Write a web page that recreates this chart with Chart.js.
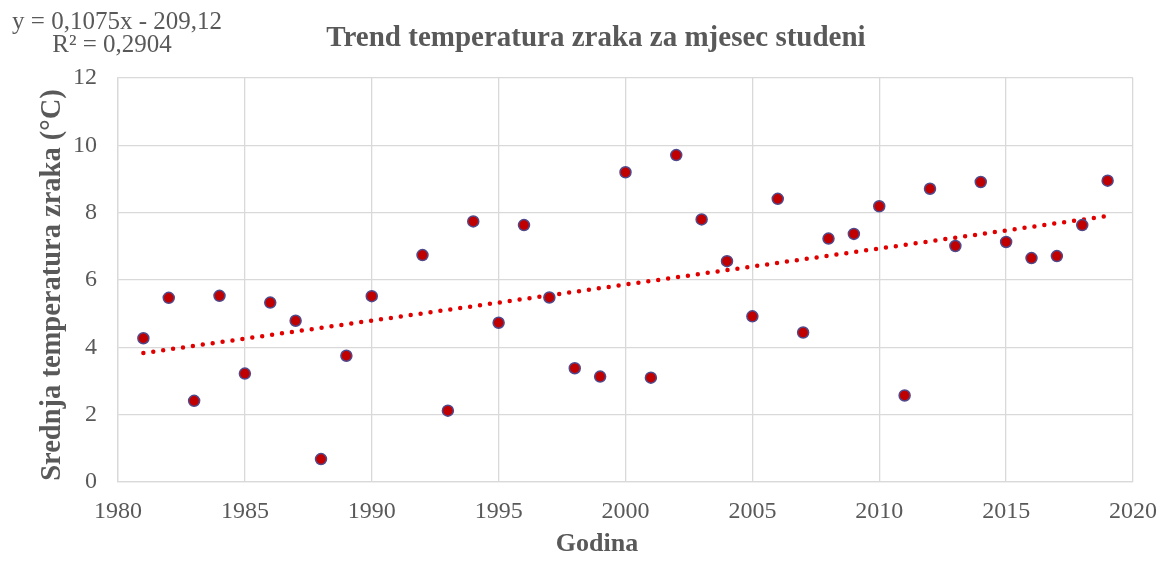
<!DOCTYPE html>
<html lang="hr">
<head>
  <meta charset="UTF-8">
  <title>Trend temperatura zraka za mjesec studeni</title>
  <script src="https://cdn.jsdelivr.net/npm/chart.js"></script>
  <style>
    body { margin: 0; background: #fff; }
    #wrap { width: 1169px; height: 564px; }
  </style>
</head>
<body>
  <div id="wrap"><canvas id="grafico"></canvas></div>

  <script>
    // Podaci: srednja temperatura zraka u studenom (°C)
    const years = [1981, 1982, 1983, 1984, 1985, 1986, 1987, 1988, 1989, 1990,
                   1992, 1993, 1994, 1995, 1996, 1997, 1998, 1999, 2000, 2001,
                   2002, 2003, 2004, 2005, 2006, 2007, 2008, 2009, 2010, 2011,
                   2012, 2013, 2014, 2015, 2016, 2017, 2018, 2019];
    const temps = [4.27, 5.47, 2.41, 5.53, 3.22, 5.33, 4.79, 0.68, 3.75, 5.52,
                   6.74, 2.12, 7.74, 4.73, 7.63, 5.48, 3.38, 3.13, 9.20, 3.10,
                   9.71, 7.80, 6.56, 4.92, 8.41, 4.44, 7.23, 7.37, 8.19, 2.57,
                   8.71, 7.01, 8.91, 7.13, 6.65, 6.71, 7.63, 8.95];

    // Linearni trend (krajnje točke)
    const trendYears = [1981, 2019];
    const trendValues = [3.83, 7.90];

    // Osi
    const xMin = 1980, xMax = 2020, xStep = 5;
    const yMin = 0, yMax = 12, yStep = 2;

    // Tekstovi
    const titleText = 'Trend temperatura zraka za mjesec studeni';
    const xTitle = 'Godina';
    const yTitle = 'Srednja temperatura zraka (°C)';
    const equationLines = ['y = 0,1075x - 209,12', 'R² = 0,2904'];

    const TEXT = '#595959';
    const GRID = '#D9D9D9';
    const SERIF = '"Liberation Serif", "Times New Roman", serif';

    const points = years.map((x, i) => ({ x: x, y: temps[i] }));
    const trend = trendYears.map((x, i) => ({ x: x, y: trendValues[i] }));

    // Naslovi i jednadžba trenda
    const textPlugin = {
      id: 'texts',
      afterDraw(chart) {
        const ctx = chart.ctx;
        const a = chart.chartArea;
        ctx.save();
        ctx.fillStyle = TEXT;
        ctx.textBaseline = 'middle';
        ctx.textAlign = 'center';

        ctx.font = 'bold 29px ' + SERIF;
        ctx.fillText(titleText, 596, 39);

        ctx.font = 'bold 26px ' + SERIF;
        ctx.fillText(xTitle, 597, 544);

        ctx.font = 'bold 28.5px ' + SERIF;
        ctx.save();
        ctx.translate(53, (a.top + a.bottom) / 2 + 5);
        ctx.rotate(-Math.PI / 2);
        ctx.fillText(yTitle, 0, 0);
        ctx.restore();

        ctx.font = '25px ' + SERIF;
        ctx.fillText(equationLines[0], 117, 22);
        ctx.fillText(equationLines[1], 112, 45);
        ctx.restore();
      }
    };

    const ctx = document.getElementById('grafico').getContext('2d');
    const chart = new Chart(ctx, {
      type: 'scatter',
      data: {
        datasets: [
          {
            label: 'Temperatura',
            data: points,
            backgroundColor: '#C00000',
            borderColor: '#4F4A8C',
            borderWidth: 1.5,
            pointRadius: 5.5,
            order: 0
          },
          {
            label: 'Linearni trend',
            type: 'line',
            data: trend,
            borderColor: '#E00000',
            borderWidth: 4.5,
            borderDash: [0, 10],
            borderCapStyle: 'round',
            pointRadius: 0,
            fill: false,
            order: 1
          }
        ]
      },
      options: {
        responsive: true,
        maintainAspectRatio: false,
        animation: false,
        layout: {
          padding: { top: 78, right: 0, bottom: 0, left: 0 }
        },
        plugins: {
          legend: { display: false },
          tooltip: { enabled: false },
          title: { display: false }
        },
        scales: {
          x: {
            type: 'linear',
            min: xMin,
            max: xMax,
            afterFit: (scale) => {
              scale.height = 82;
              scale.paddingRight = 36;
            },
            ticks: {
              stepSize: xStep,
              color: TEXT,
              padding: 15,
              font: { family: SERIF, size: 24 },
              callback: (v) => String(v)
            },
            grid: { color: GRID, lineWidth: 1.3, drawTicks: false },
            border: { color: GRID, width: 1.3 }
          },
          y: {
            min: yMin,
            max: yMax,
            afterFit: (scale) => { scale.width = 118; },
            ticks: {
              stepSize: yStep,
              color: TEXT,
              padding: 21,
              font: { family: SERIF, size: 24 }
            },
            grid: { color: GRID, lineWidth: 1.3, drawTicks: false },
            border: { color: GRID, width: 1.3 }
          }
        }
      },
      plugins: [textPlugin]
    });
  </script>
</body>
</html>
